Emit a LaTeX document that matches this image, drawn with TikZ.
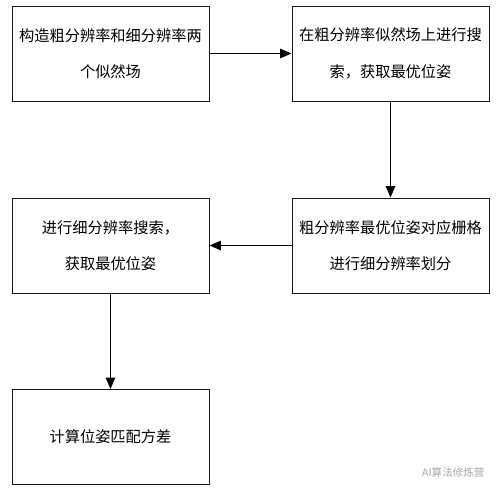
\documentclass[tikz,border=0pt]{standalone}
\usepackage{fontspec}
\setmainfont{Noto Sans CJK SC}
\usetikzlibrary{arrows.meta}
\definecolor{cInk}{HTML}{1A1A1A}
\tikzset{
  >={Triangle[length=3.4mm, width=2.8mm]},
  stepbox/.style={draw=cInk, line width=0.8pt, align=center,
                  minimum width=5.91cm, minimum height=2.85cm,
                  inner sep=0pt, font=\fontsize{13pt}{31pt}\selectfont},
  arr/.style={->, line width=1.2pt},
}

\begin{document}
\begin{tikzpicture}
    \useasboundingbox (0,0) rectangle (15.06,-14.85);
    % steps
    \node[stepbox] (build)  at (3.315,-1.605)  {构造粗分辨率和细分辨率两\\个似然场};
    \node[stepbox] (coarse) at (11.715,-1.605) {在粗分辨率似然场上进行搜\\索，获取最优位姿};
    \node[stepbox] (split)  at (11.715,-7.365) {粗分辨率最优位姿对应栅格\\进行细分辨率划分};
    \node[stepbox] (fine)   at (3.315,-7.365)  {进行细分辨率搜索，\\获取最优位姿};
    \node[stepbox] (var)    at (3.315,-13.11)  {计算位姿匹配方差};
    % flow
    \draw[arr] (build) -- (coarse);
    \draw[arr] (coarse) -- (split);
    \draw[arr] (split) -- (fine);
    \draw[arr] (fine) -- (var);
    % watermark
    \node[text=black!35, font=\fontsize{9pt}{10pt}\selectfont] (mark) at (13.6,-14.18) {AI算法修炼营};
\end{tikzpicture}
\end{document}
